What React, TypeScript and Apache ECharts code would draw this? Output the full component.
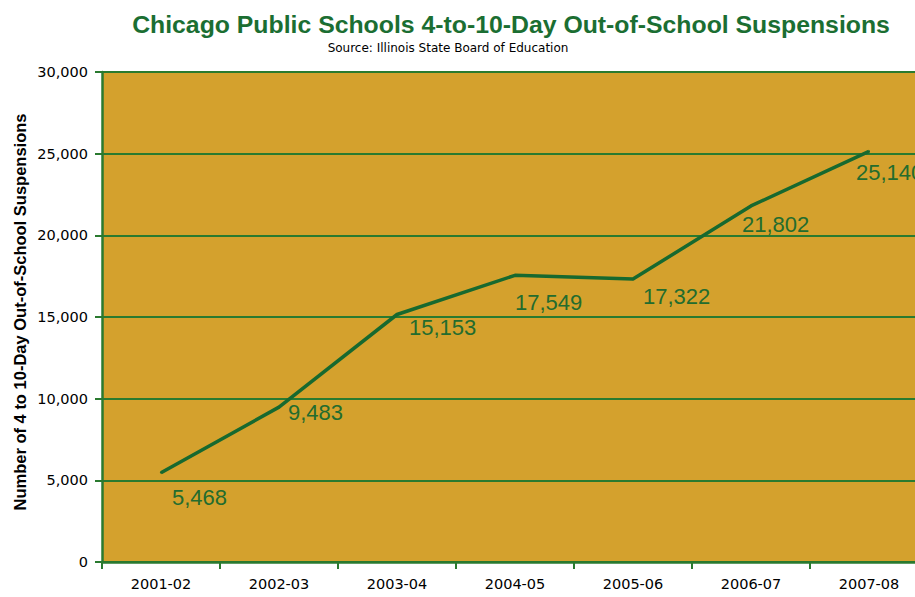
import React, { useEffect, useRef } from "react";
import * as echarts from "echarts";

const categories = ["2001-02", "2002-03", "2003-04", "2004-05", "2005-06", "2006-07", "2007-08"];
const suspensions = [5468, 9483, 15153, 17549, 17322, 21802, 25140];
const labelOffsets: [number, number][] = [
  [11, 25],
  [9, 5],
  [12, 13],
  [0, 27],
  [10, 17],
  [-9, 19],
  [-13, 21],
];

const GOLD = "#D4A12D";
const LINE = "#17692F";
const GRID = "#2A7A2F";
const LABEL = "#236C2E";

export default function App() {
  const ref = useRef<HTMLDivElement>(null);
  useEffect(() => {
    if (!ref.current) return;
    const chart = echarts.init(ref.current, undefined, { renderer: "svg" });
    chart.setOption({
      animation: false,
      backgroundColor: "#ffffff",
      graphic: [
        {
          type: "text",
          x: 511,
          y: 24,
          style: {
            text: "Chicago Public Schools 4-to-10-Day Out-of-School Suspensions",
            align: "center",
            verticalAlign: "middle",
            fill: "#1B6E32",
            font: "bold 24.8px 'Liberation Sans', Arial, sans-serif",
          },
        },
        {
          type: "text",
          x: 448,
          y: 48,
          style: {
            text: "Source: Illinois State Board of Education",
            align: "center",
            verticalAlign: "middle",
            fill: "#000",
            font: "12px 'DejaVu Sans', sans-serif",
          },
        },
        {
          type: "text",
          x: 20,
          y: 312,
          rotation: Math.PI / 2,
          style: {
            text: "Number of 4 to 10-Day Out-of-School Suspensions",
            align: "center",
            verticalAlign: "middle",
            fill: "#000",
            font: "bold 16.5px 'Liberation Sans', Arial, sans-serif",
          },
        },
      ],
      grid: {
        left: 102,
        top: 72,
        width: 826,
        height: 490,
        show: true,
        backgroundColor: GOLD,
        borderWidth: 0,
      },
      xAxis: {
        type: "category",
        data: categories,
        boundaryGap: true,
        axisLine: { show: true, lineStyle: { color: GRID, width: 2.5 } },
        axisTick: { show: true, length: 7, lineStyle: { color: GRID, width: 2 } },
        axisLabel: {
          margin: 14,
          color: "#000",
          fontSize: 14.5,
          fontFamily: "'DejaVu Sans', sans-serif",
        },
      },
      yAxis: {
        type: "value",
        min: 0,
        max: 30000,
        interval: 5000,
        axisLine: { show: true, lineStyle: { color: GRID, width: 2.5 } },
        axisTick: { show: true, length: 7, lineStyle: { color: GRID, width: 2 } },
        splitLine: { show: true, lineStyle: { color: GRID, width: 2 } },
        axisLabel: {
          margin: 14,
          color: "#000",
          fontSize: 14.5,
          fontFamily: "'DejaVu Sans', sans-serif",
          formatter: (v: number) => v.toLocaleString("en-US"),
        },
      },
      series: [
        {
          type: "line",
          data: suspensions.map((v, i) => ({
            value: v,
            label: {
              show: true,
              position: "inside",
              align: "left",
              verticalAlign: "middle",
              offset: labelOffsets[i],
            },
          })),
          symbol: "circle",
          symbolSize: 2,
          itemStyle: { color: LINE },
          lineStyle: { color: LINE, width: 3.5 },
          label: {
            show: true,
            color: LABEL,
            fontSize: 22,
            fontFamily: "'Liberation Sans', Arial, sans-serif",
            formatter: (p: any) => Number(p.value).toLocaleString("en-US"),
          },
        },
      ],
    });
    return () => chart.dispose();
  }, []);
  return (
    <div
      style={{
        position: "fixed",
        left: 0,
        top: 0,
        width: 915,
        height: 597,
        overflow: "hidden",
        background: "#fff",
      }}
    >
      <div ref={ref} style={{ width: 940, height: 597 }} />
    </div>
  );
}
